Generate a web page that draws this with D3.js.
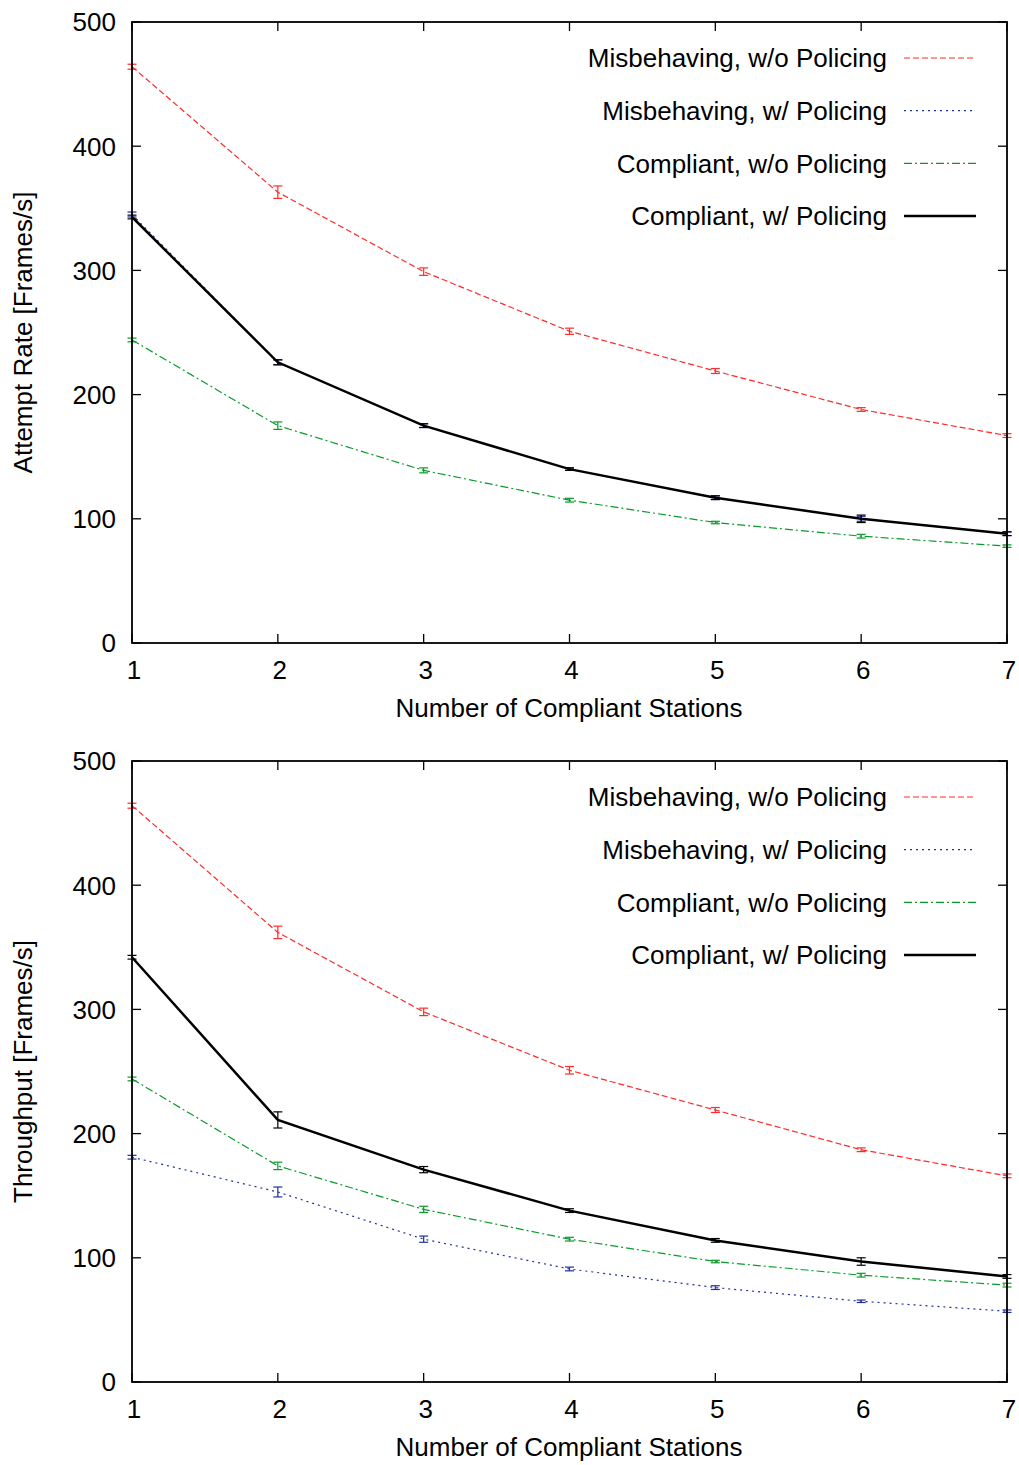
<!DOCTYPE html>
<html><head><meta charset="utf-8">
<script src="https://d3js.org/d3.v7.min.js"></script>
<style>body{margin:0;background:#fff}svg{display:block}text{font-family:"Liberation Sans",Arial,Helvetica,sans-serif;fill:#000}</style>
</head><body><div id="c"></div>
<script>
const stations = [1,2,3,4,5,6,7];
const yTicks = [0,100,200,300,400,500];
const seriesNames = ["Misbehaving, w/o Policing","Misbehaving, w/ Policing","Compliant, w/o Policing","Compliant, w/ Policing"];
const seriesColors = ["#ff2a2a","#22309a","#0a9a2a","#000000"];
const seriesDash = ["6,3","2,4","8,3,2,3",null];
const seriesWidth = [1.2,1.2,1.2,2.5];

// Panel 1: Attempt Rate
const attemptMisNoPol = [464,363,299,251,219,188,167];
const attemptMisPol   = [345,226,175,140,117,100,88];
const attemptCompNoPol= [244,175,139,115,97,86,78];
const attemptCompPol  = [343,226,175,140,117,100,88];
const attemptErrMisNoPol = [2,5,3,2.5,2,1.5,1.5];
const attemptErrMisPol   = [2,2,1.5,1,1.5,2,1.5];
const attemptErrCompNoPol= [1.5,3,2,1.5,1,1.5,1];
const attemptErrCompPol  = [1.5,2,1.5,1,1.5,3,1.5];

// Panel 2: Throughput
const thrMisNoPol = [464,362,298,251,219,187,166];
const thrMisPol   = [181,153,115,91,76,65,57];
const thrCompNoPol= [244,174,139,115,97,86,78];
const thrCompPol  = [342,211,171,138,114,97,85];
const thrErrMisNoPol = [2,5,3,3,2,1.5,1.5];
const thrErrMisPol   = [1.5,4,2.5,1.5,1.5,1,1];
const thrErrCompNoPol= [1.5,3,2.5,1.5,1,1.5,1.5];
const thrErrCompPol  = [1.5,6.5,2.5,1.5,1.5,3,1.5];

const W = 1019, H = 1465;
const FS = 26;
const svg = d3.select("#c").append("svg").attr("width",W).attr("height",H);

const panels = [
  {top:22, bottom:643, ylabel:"Attempt Rate [Frames/s]",
   vals:[attemptMisNoPol,attemptMisPol,attemptCompNoPol,attemptCompPol],
   errs:[attemptErrMisNoPol,attemptErrMisPol,attemptErrCompNoPol,attemptErrCompPol]},
  {top:761, bottom:1382, ylabel:"Throughput [Frames/s]",
   vals:[thrMisNoPol,thrMisPol,thrCompNoPol,thrCompPol],
   errs:[thrErrMisNoPol,thrErrMisPol,thrErrCompNoPol,thrErrCompPol]}
];
const left = 132, right = 1007;
const x = d3.scaleLinear().domain([1,7]).range([left,right]);

panels.forEach(p => {
  const y = d3.scaleLinear().domain([0,500]).range([p.bottom,p.top]);
  const g = svg.append("g");
  const tl = 9;
  yTicks.forEach(t => {
    g.append("line").attr("x1",left).attr("x2",left+tl).attr("y1",y(t)).attr("y2",y(t)).attr("stroke","#000").attr("stroke-width",1.3);
    g.append("line").attr("x1",right).attr("x2",right-tl).attr("y1",y(t)).attr("y2",y(t)).attr("stroke","#000").attr("stroke-width",1.3);
    g.append("text").attr("x",left-16).attr("y",y(t)).attr("dy","0.36em").attr("text-anchor","end").attr("font-size",FS).text(t);
  });
  stations.forEach(s => {
    g.append("line").attr("x1",x(s)).attr("x2",x(s)).attr("y1",p.bottom).attr("y2",p.bottom-tl).attr("stroke","#000").attr("stroke-width",1.3);
    g.append("line").attr("x1",x(s)).attr("x2",x(s)).attr("y1",p.top).attr("y2",p.top+tl).attr("stroke","#000").attr("stroke-width",1.3);
    g.append("text").attr("x",x(s)+2).attr("y",p.bottom+27).attr("dy","0.36em").attr("text-anchor","middle").attr("font-size",FS).text(s);
  });
  g.append("text").attr("x",569).attr("y",p.bottom+65).attr("dy","0.36em").attr("text-anchor","middle").attr("font-size",FS).text("Number of Compliant Stations");
  g.append("text").attr("transform",`translate(23,${(p.top+p.bottom)/2}) rotate(-90)`).attr("dy","0.36em").attr("text-anchor","middle").attr("font-size",FS).text(p.ylabel);

  const line = d3.line().x((d,i)=>x(stations[i])).y(d=>y(d));
  p.vals.forEach((vals,k) => {
    const path = g.append("path").datum(vals).attr("d",line).attr("fill","none")
      .attr("stroke",seriesColors[k]).attr("stroke-width",seriesWidth[k]);
    if (seriesDash[k]) path.attr("stroke-dasharray",seriesDash[k]);
    vals.forEach((v,i) => {
      const e = p.errs[k][i];
      const cx = x(stations[i]);
      const cw = 4.5;
      const eg = g.append("g").attr("stroke",seriesColors[k]).attr("stroke-width",1.2);
      eg.append("line").attr("x1",cx).attr("x2",cx).attr("y1",y(v-e)).attr("y2",y(v+e));
      eg.append("line").attr("x1",cx-cw).attr("x2",cx+cw).attr("y1",y(v-e)).attr("y2",y(v-e));
      eg.append("line").attr("x1",cx-cw).attr("x2",cx+cw).attr("y1",y(v+e)).attr("y2",y(v+e));
    });
    const ly = p.top + 36 + k*52.7;
    g.append("text").attr("x",887).attr("y",ly).attr("dy","0.36em").attr("text-anchor","end").attr("font-size",FS).text(seriesNames[k]);
    const ll = g.append("line").attr("x1",904).attr("x2",976).attr("y1",ly).attr("y2",ly)
      .attr("stroke",seriesColors[k]).attr("stroke-width",seriesWidth[k]);
    if (seriesDash[k]) ll.attr("stroke-dasharray",seriesDash[k]);
  });
  g.append("rect").attr("x",left).attr("y",p.top).attr("width",right-left).attr("height",p.bottom-p.top)
    .attr("fill","none").attr("stroke","#000").attr("stroke-width",1.8);
});
</script>
</body></html>
